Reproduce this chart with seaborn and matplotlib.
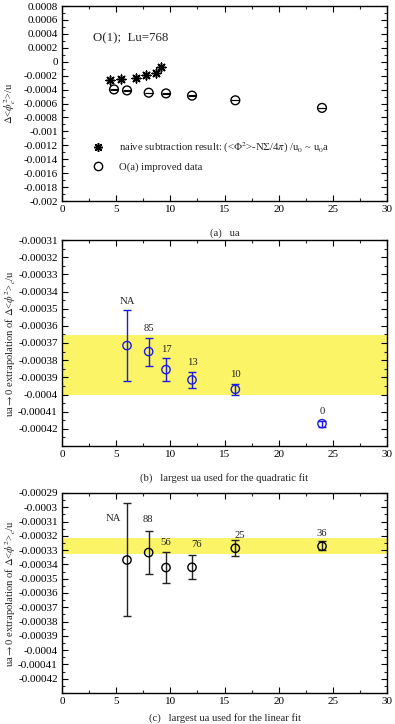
import numpy as np
import pandas as pd
import matplotlib
matplotlib.use("Agg")
import matplotlib.pyplot as plt
import seaborn as sns
from matplotlib.ticker import MultipleLocator, FuncFormatter, FixedLocator
from matplotlib.lines import Line2D

# ---------------- data ----------------
# panel (a)
naive_ua = [4.43, 5.42, 6.8, 7.72, 8.7, 9.17]
naive_val = [-0.000258, -0.000246, -0.000227, -0.000194, -0.000156, -0.000075]
impr_ua = [4.8, 6.0, 8.0, 9.6, 12.0, 16.0, 24.0]
impr_val = [-0.000398, -0.000412, -0.000445, -0.000455, -0.000487, -0.000554, -0.000663]
impr_err = [0.000002] * 7
a_yticks = [-0.002, -0.0018, -0.0016, -0.0014, -0.0012, -0.001, -0.0008, -0.0006,
            -0.0004, -0.0002, 0.0, 0.0002, 0.0004, 0.0006, 0.0008]

# panel (b) quadratic fit
quad_ua = [6.0, 8.0, 9.6, 12.0, 16.0, 24.0]
quad_val = [-0.0003715, -0.000375, -0.0003855, -0.0003915, -0.000397, -0.000417]
quad_lo = [-0.000392, -0.0003835, -0.000392, -0.0003965, -0.0004005, -0.0004188]
quad_hi = [-0.000351, -0.000367, -0.000379, -0.000387, -0.000394, -0.0004155]
quad_lbl = ["NA", "85", "17", "13", "10", "0"]
quad_band = [-0.0004, -0.0003655]
b_yticks = [-0.00042, -0.00041, -0.0004, -0.00039, -0.00038, -0.00037, -0.00036,
            -0.00035, -0.00034, -0.00033, -0.00032, -0.00031]

# panel (c) linear fit
lin_ua = [6.0, 8.0, 9.6, 12.0, 16.0, 24.0]
lin_val = [-0.0003369, -0.0003317, -0.0003422, -0.000342, -0.0003287, -0.0003273]
lin_lo = [-0.0003764, -0.0003464, -0.0003532, -0.0003504, -0.0003341, -0.0003301]
lin_hi = [-0.000297, -0.0003165, -0.0003312, -0.0003334, -0.000323, -0.0003237]
lin_lbl = ["NA", "88", "56", "76", "25", "36"]
lin_lbl_x = [4.7, 7.9, 9.6, 12.4, 16.4, 24.0]
lin_lbl_y = [-0.000308, -0.0003085, -0.0003245, -0.000326, -0.0003195, -0.0003185]
lin_band = [-0.0003329, -0.0003216]
c_yticks = [-0.00042, -0.00041, -0.0004, -0.00039, -0.00038, -0.00037, -0.00036,
            -0.00035, -0.00034, -0.00033, -0.00032, -0.00031, -0.0003, -0.00029]

# ---------------- style ----------------
sns.set_theme(style="ticks")
plt.rcParams["font.family"] = ["Liberation Serif", "DejaVu Serif"]
plt.rcParams["mathtext.fontset"] = "stix"
plt.rcParams["xtick.direction"] = "in"
plt.rcParams["ytick.direction"] = "in"
plt.rcParams["xtick.top"] = True
plt.rcParams["ytick.right"] = True
plt.rcParams["axes.linewidth"] = 1.0
plt.rcParams["axes.edgecolor"] = "black"

FS = 8
LFS = 7.7
BAND = "#faf466"
BLUE = "#1c1ce0"

fig = plt.figure(figsize=(3.95, 7.24), dpi=100)
L, W = 62 / 395, 325 / 395
axa = fig.add_axes([L, 1 - 201 / 724, W, 195 / 724])
axb = fig.add_axes([L, 1 - 446 / 724, W, 206 / 724])
axc = fig.add_axes([L, 1 - 693 / 724, W, 200 / 724])

fmt = FuncFormatter(lambda v, p: "{:g}".format(round(v, 9)) if abs(v) > 1e-12 else "0")


def style_axis(ax, yticks, ymin):
    ax.set_xlim(0, 30)
    ax.xaxis.set_major_locator(MultipleLocator(5))
    ax.xaxis.set_minor_locator(MultipleLocator(2.5))
    ax.yaxis.set_major_locator(FixedLocator(yticks))
    ax.yaxis.set_minor_locator(MultipleLocator(ymin))
    ax.yaxis.set_major_formatter(fmt)
    ax.tick_params(which="major", length=4, width=0.8, labelsize=FS, pad=3, colors="black")
    ax.tick_params(which="minor", length=2, width=0.8)
    for s in ax.spines.values():
        s.set_visible(True)
        s.set_color("black")


# ---- panel (a)
dfn = pd.DataFrame({"ua": naive_ua, "val": naive_val})
dfi = pd.DataFrame({"ua": impr_ua, "val": impr_val})
axa.errorbar(impr_ua, impr_val, yerr=impr_err, fmt="none", ecolor="black",
             elinewidth=0.8, capsize=3.2, capthick=0.8)
sns.scatterplot(data=dfi, x="ua", y="val", ax=axa, marker="o", s=40,
                facecolor="none", edgecolor="black", linewidth=1.0, legend=False)
sns.scatterplot(data=dfn, x="ua", y="val", ax=axa, marker=(8, 2, 0), s=40,
                color="black", linewidth=1.1, legend=False)
axa.set_ylim(-0.002, 0.0008)
style_axis(axa, a_yticks, 0.0001)
axa.set_xlabel("(a)   ua", fontsize=LFS)
axa.set_ylabel(r"$\Delta$<$\phi^2_c$>/u", fontsize=LFS)
axa.xaxis.set_label_coords(0.5, -27 / 195)
axa.yaxis.set_label_coords(-44 / 325, 0.5)
axa.text(0.094, 0.833, "O(1);  Lu=768", transform=axa.transAxes, fontsize=9.3,
         va="center", ha="left")
h1 = Line2D([], [], ls="none", marker=(8, 2, 0), ms=6.3, color="black", mew=1.1)
h2 = Line2D([], [], ls="none", marker="o", ms=6, mfc="none", mec="black", mew=1.0)
axa.legend([h1, h2],
           [r"naive subtraction result: (<$\Phi^2$>-N$\Sigma$/4$\pi$) /u$_0$ ~ u$_0$a",
            "O(a) improved data"],
           loc="upper left", bbox_to_anchor=(0.09, 0.31), frameon=False,
           fontsize=LFS, handlelength=1.2, handletextpad=1.4, labelspacing=0.65,
           borderpad=0, borderaxespad=0)

# ---- panel (b)
axb.axhspan(quad_band[0], quad_band[1], color=BAND, lw=0, zorder=0)
qv = np.array(quad_val)
axb.errorbar(quad_ua, quad_val,
             yerr=[qv - np.array(quad_lo), np.array(quad_hi) - qv],
             fmt="none", ecolor=BLUE, elinewidth=1.0, capsize=3, capthick=1.0)
dfq = pd.DataFrame({"ua": quad_ua, "val": quad_val})
sns.scatterplot(data=dfq, x="ua", y="val", ax=axb, marker="o", s=36,
                facecolor="none", edgecolor=BLUE, linewidth=1.0, legend=False, zorder=3)
for x, yh, lab in zip(quad_ua, quad_hi, quad_lbl):
    axb.annotate(lab, (x, yh), xytext=(0, 3.5), textcoords="offset points",
                 ha="center", va="bottom", fontsize=LFS, color="#222222")
axb.set_ylim(-0.00043, -0.00031)
style_axis(axb, b_yticks, 0.000005)
axb.set_xlabel("(b)   largest ua used for the quadratic fit", fontsize=LFS)
axb.set_ylabel(r"ua$\rightarrow$0 extrapolation of $\Delta$<$\phi^2$>$_c$/u", fontsize=LFS)
axb.xaxis.set_label_coords(0.5, -27 / 206)
axb.yaxis.set_label_coords(-44 / 325, 0.5)

# ---- panel (c)
axc.axhspan(lin_band[0], lin_band[1], color=BAND, lw=0, zorder=0)
lv = np.array(lin_val)
axc.errorbar(lin_ua, lin_val,
             yerr=[lv - np.array(lin_lo), np.array(lin_hi) - lv],
             fmt="none", ecolor="#222222", elinewidth=1.0, capsize=3, capthick=1.0)
dfl = pd.DataFrame({"ua": lin_ua, "val": lin_val})
sns.scatterplot(data=dfl, x="ua", y="val", ax=axc, marker="o", s=36,
                facecolor="none", edgecolor="black", linewidth=1.0, legend=False, zorder=3)
for x, y, lab in zip(lin_lbl_x, lin_lbl_y, lin_lbl):
    axc.text(x, y, lab, ha="center", va="center", fontsize=LFS, color="#222222")
axc.set_ylim(-0.00043, -0.00029)
style_axis(axc, c_yticks, 0.000005)
axc.set_xlabel("(c)   largest ua used for the linear fit", fontsize=LFS)
axc.set_ylabel(r"ua$\rightarrow$0 extrapolation of $\Delta$<$\phi^2$>$_c$/u", fontsize=LFS)
axc.xaxis.set_label_coords(0.5, -20 / 200)
axc.yaxis.set_label_coords(-44 / 325, 0.5)

fig.savefig("out.png", dpi=100)
